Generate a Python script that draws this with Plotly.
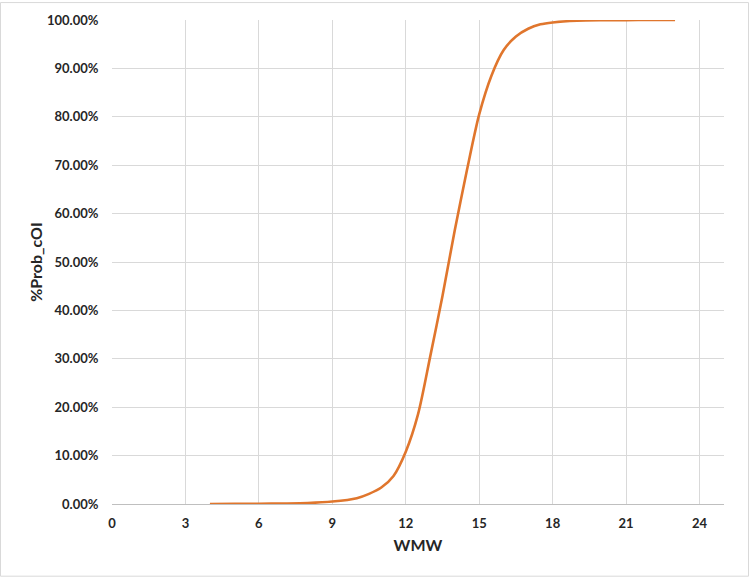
import plotly.graph_objects as go

wmw = [4, 5, 6, 7, 8, 9, 10, 10.5, 11, 11.5, 12, 12.5, 13, 13.5, 14, 14.5, 15, 15.5,
       16, 16.5, 17, 17.5, 18, 19, 20, 21, 22, 23]
prob_pct = [0.0, 0.02, 0.05, 0.1, 0.2, 0.5, 1.2, 2.1, 3.4, 5.8, 10.8, 18.5, 30.5, 43.0,
            56.5, 69.0, 80.5, 88.5, 93.8, 96.6, 98.2, 99.1, 99.5, 99.85, 99.95, 99.98, 100.0, 100.0]
prob = [p / 100 for p in prob_pct]

x_ticks = [0, 3, 6, 9, 12, 15, 18, 21, 24]

W, H = 750, 578
ml, mr, mt, mb = 112, 26, 18, 74
pw, ph = W - ml - mr, H - mt - mb

fig = go.Figure()
fig.add_trace(go.Scatter(
    x=wmw, y=prob, mode="lines",
    line=dict(color="#E0762D", width=2.6, shape="spline", smoothing=0.8),
    showlegend=False, hoverinfo="x+y"))

font_family = "Lato, 'Open Sans', Arial, sans-serif"
fig.update_layout(
    width=W, height=H,
    margin=dict(l=ml, r=mr, t=mt, b=mb, pad=0),
    paper_bgcolor="white", plot_bgcolor="white",
    font=dict(family=font_family, color="#262626"),
    xaxis=dict(range=[0, 25], tickvals=x_ticks, showgrid=True, gridcolor="#D9D9D9", gridwidth=1,
               showline=True, linecolor="#BFBFBF", linewidth=1, zeroline=False,
               ticks="outside", ticklen=7, tickcolor="rgba(0,0,0,0)",
               tickfont=dict(size=13, family=font_family, weight="bold", color="#262626"),
               title=dict(text="<b>WMW</b>", font=dict(size=16, family=font_family, color="#262626"), standoff=10)),
    yaxis=dict(range=[0, 1], dtick=0.1, tickformat=".2%", showgrid=True, gridcolor="#D9D9D9", gridwidth=1,
               showline=False, zeroline=False,
               ticks="outside", ticklen=10, tickcolor="rgba(0,0,0,0)",
               tickfont=dict(size=13, family=font_family, weight="bold", color="#262626"),
               title=dict(text="<b>%Prob_cOI</b>", font=dict(size=16, family=font_family, color="#262626"), standoff=0)),
)

# chart area border
fig.add_shape(type="rect", xref="paper", yref="paper",
              x0=(0.5 - ml) / pw, x1=(W - 1.5 - ml) / pw,
              y0=-(H - 1.5 - mt - ph) / ph, y1=(ph + mt - 0.5) / ph,
              line=dict(color="#D9D9D9", width=1), fillcolor="rgba(0,0,0,0)", layer="below")

fig.write_html("out.html", config={"displayModeBar": False},
               post_script="document.body.style.margin='0';")
